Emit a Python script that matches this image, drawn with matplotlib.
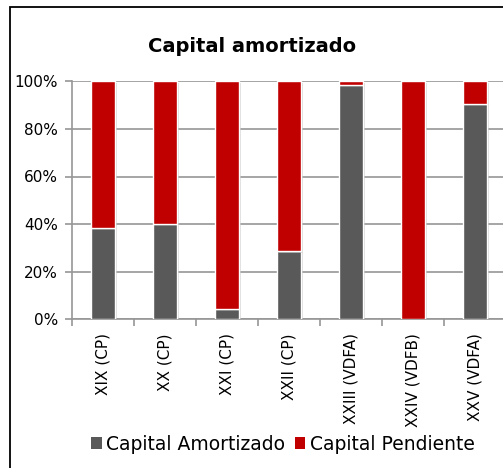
import matplotlib
matplotlib.use("Agg")
import matplotlib.pyplot as plt
import numpy as np
from matplotlib.patches import Rectangle
import matplotlib.patheffects as pe

categories = ["XIX (CP)", "XX (CP)", "XXI (CP)", "XXII (CP)", "XXIII (VDFA)", "XXIV (VDFB)", "XXV (VDFA)"]
amortizado = [38.5, 40.0, 4.5, 28.5, 98.5, 0.0, 90.5]
pendiente = [100 - v for v in amortizado]
yticks = [0, 20, 40, 60, 80, 100]
title = "Capital amortizado"
series_names = ["Capital Amortizado", "Capital Pendiente"]

W, H = 503, 468
fig = plt.figure(figsize=(W / 100, H / 100), dpi=100)
plt.rcParams['font.family'] = ['DejaVu Sans']

ax = fig.add_axes([72 / W, (H - 319.3) / H, 434 / W, 238 / H])
x = np.arange(len(categories))
shadow = [pe.SimplePatchShadow(offset=(1.5, -1), shadow_rgbFace="#bbbbbb", alpha=0.5), pe.Normal()]
b1 = ax.bar(x, amortizado, width=0.39, color="#595959", edgecolor="white", linewidth=1, zorder=3,
            label=series_names[0])
b2 = ax.bar(x, pendiente, bottom=amortizado, width=0.39, color="#C00000", edgecolor="white", linewidth=1,
            zorder=3, label=series_names[1])
for p in list(b1) + list(b2):
    p.set_path_effects(shadow)

ax.set_xlim(-0.5, len(categories) - 0.5)
ax.set_ylim(0, 100)
ax.set_yticks(yticks)
ax.set_yticklabels([f"{v}%" for v in yticks], fontsize=11)
ax.yaxis.grid(True, color="#969696", linewidth=1.2, zorder=0)
ax.set_axisbelow(True)
ax.set_xticks(x)
ax.set_xticklabels(categories, rotation=90, fontsize=11, va="top")
ax.set_xticks(np.arange(len(categories) + 1) - 0.5, minor=True)
ax.tick_params(axis="x", which="major", length=0, pad=10)
ax.tick_params(axis="x", which="minor", length=5, color="#969696", width=1.2)
ax.tick_params(axis="y", length=5, color="#969696", width=1.2, pad=5)
for s in ["top", "right"]:
    ax.spines[s].set_visible(False)
for s in ["left", "bottom"]:
    ax.spines[s].set_color("#969696")
    ax.spines[s].set_linewidth(1.2)

fig.text(252 / W, 1 - 47 / H, title, ha="center", va="center", fontsize=14, fontweight="bold")

leg = fig.legend(handles=[b1, b2], labels=series_names, loc="center", bbox_to_anchor=(283 / W, 1 - 444 / H),
                 ncol=2, frameon=False, fontsize=13.5, handlelength=0.55, handleheight=0.55,
                 handletextpad=0.25, columnspacing=0.5)
for h in leg.legend_handles:
    h.set_path_effects([])
    h.set_edgecolor("none")

border = Rectangle((10 / W, -0.2), 2, 1.2 - 7 / H, transform=fig.transFigure, fill=False,
                   edgecolor="black", linewidth=1.3, clip_on=False)
fig.patches.append(border)

fig.savefig("out.png", dpi=100)
